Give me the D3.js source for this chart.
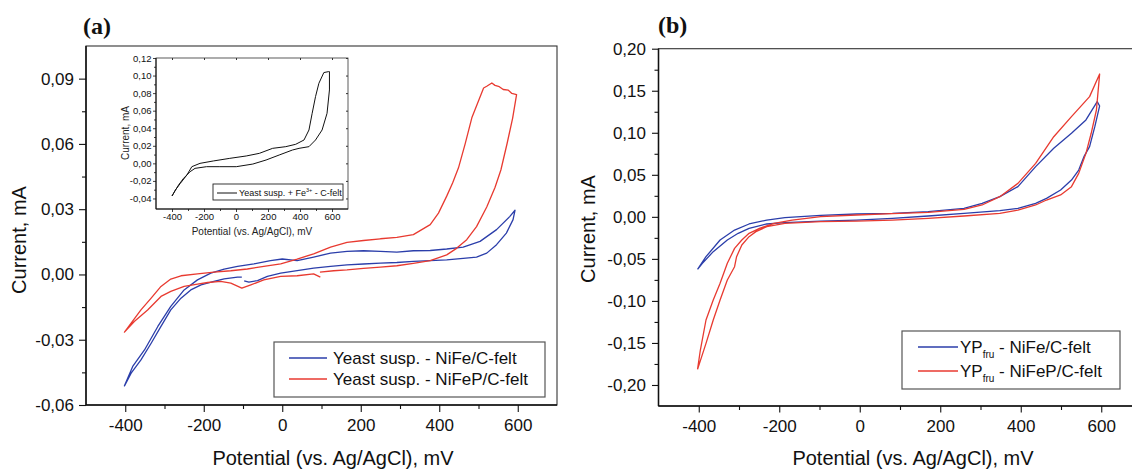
<!DOCTYPE html>
<html>
<head>
<meta charset="utf-8">
<script src="https://cdn.jsdelivr.net/npm/d3@7"></script>
<style>
  body { margin: 0; background: #fff; }
  svg { display: block; font-family: "Liberation Sans", Arial, sans-serif; }
</style>
</head>
<body>
<svg id="chart" width="1132" height="469"></svg>
<script>
// ---- data (potential mV, current mA) ----
const blueA = [[-103,-0.0012],[-114,-0.0012],[-148,-0.0020],[-174,-0.0032],[-207,-0.0048],[-233,-0.0071],[-258,-0.0109],[-284,-0.0163],[-309,-0.0239],[-334,-0.0316],[-360,-0.0393],[-385,-0.0454],[-402,-0.0512],
  [-381,-0.0423],[-351,-0.0347],[-317,-0.0239],[-284,-0.0147],[-250,-0.0071],[-216,-0.0025],[-182,0.0006],[-148,0.0025],[-114,0.0037],[-72,0.0049],[-30,0.0064],[0,0.0071],[38,0.0064],[80,0.0080],[123,0.0098],[165,0.0106],[207,0.0109],[250,0.0106],[292,0.0103],[334,0.0109],[377,0.0110],[419,0.0117],[461,0.0126],[504,0.0152],[546,0.0206],[580,0.0267],[593,0.0295],
  [588,0.0252],[571,0.0190],[546,0.0137],[521,0.0098],[495,0.0080],[461,0.0074],[419,0.0067],[377,0.0064],[334,0.0060],[292,0.0055],[250,0.0052],[207,0.0048],[165,0.0044],[123,0.0037],[80,0.0029],[38,0.0018],[-4,0.0006],[-38,-0.0009],[-63,-0.0028],[-85,-0.0035],[-97,-0.0029]];

const redA = [[96,0.0011],[131,0.0017],[165,0.0021],[207,0.0028],[250,0.0034],[292,0.0040],[334,0.0051],[377,0.0064],[419,0.0090],[444,0.0120],[470,0.0160],[495,0.0220],[521,0.0310],[542,0.0400],[557,0.0480],[573,0.0603],[587,0.0719],[597,0.0827],
  [585,0.0832],[576,0.0847],[563,0.0850],[553,0.0863],[542,0.0869],[534,0.0880],[521,0.0865],[513,0.0857],[483,0.0720],[466,0.0600],[449,0.0490],[434,0.0420],[419,0.0360],[398,0.0282],[377,0.0229],[334,0.0183],[292,0.0170],[250,0.0164],[207,0.0156],[165,0.0147],[123,0.0126],[80,0.0095],[38,0.0071],[-4,0.0049],[-47,0.0037],[-89,0.0025],[-131,0.0017],[-174,0.0011],[-216,0.0003],[-258,-0.0006],[-284,-0.0021],[-309,-0.0055],[-334,-0.0109],[-360,-0.0163],[-402,-0.0265],
  [-377,-0.0216],[-343,-0.0163],[-309,-0.0101],[-284,-0.0078],[-250,-0.0055],[-216,-0.0044],[-190,-0.0037],[-157,-0.0032],[-131,-0.0040],[-103,-0.0063],[-80,-0.0048],[-47,-0.0025],[-4,-0.0009],[38,-0.0006],[80,0.0003],[97,-0.0012]];

const insetA = [[-400,-0.0372],[-379,-0.0304],[-348,-0.0228],[-307,-0.0133],[-276,-0.0038],[-225,0.0000],[-142,0.0027],[-39,0.0057],[64,0.0084],[146,0.0114],[229,0.0171],[311,0.0190],[373,0.0217],[425,0.0266],[456,0.0380],[476,0.0570],[497,0.0760],[518,0.0912],[549,0.1034],[579,0.1045],
  [584,0.1045],[584,0.0836],[569,0.0570],[538,0.0380],[497,0.0266],[456,0.0190],[394,0.0171],[353,0.0152],[270,0.0095],[188,0.0038],[105,-0.0008],[2,-0.0038],[-101,-0.0038],[-184,-0.0038],[-256,-0.0057],[-287,-0.0095],[-328,-0.0171],[-359,-0.0247],[-384,-0.0323],[-400,-0.0372]];

const blueB = [[-403,-0.0624],[-382,-0.0474],[-347,-0.0275],[-311,-0.0157],[-275,-0.0085],[-231,-0.0038],[-186,-0.0010],[-97,0.0018],[-8,0.0034],[81,0.0042],[170,0.0061],[259,0.0101],[304,0.0161],[348,0.0240],[393,0.0359],[437,0.0597],[482,0.0815],[526,0.0994],[562,0.1153],[590,0.1371],[596,0.1319],
  [584,0.1073],[571,0.0835],[557,0.0716],[544,0.0557],[526,0.0438],[499,0.0319],[464,0.0220],[437,0.0161],[393,0.0101],[348,0.0073],[259,0.0042],[170,0.0010],[81,-0.0018],[-8,-0.0038],[-97,-0.0050],[-186,-0.0069],[-231,-0.0085],[-275,-0.0137],[-302,-0.0196],[-329,-0.0275],[-364,-0.0414],[-391,-0.0553],[-403,-0.0624]];

const redB = [[-403,-0.1814],[-396,-0.1584],[-382,-0.1227],[-364,-0.0989],[-347,-0.0791],[-329,-0.0553],[-311,-0.0375],[-293,-0.0275],[-275,-0.0196],[-249,-0.0137],[-213,-0.0077],[-168,-0.0038],[-97,0.0002],[-8,0.0022],[81,0.0038],[170,0.0054],[259,0.0089],[304,0.0141],[348,0.0240],[393,0.0398],[437,0.0636],[482,0.0953],[526,0.1192],[571,0.1430],[596,0.1699],
  [588,0.1271],[575,0.0994],[562,0.0755],[544,0.0517],[526,0.0359],[499,0.0260],[464,0.0200],[437,0.0141],[393,0.0081],[348,0.0042],[259,0.0010],[170,-0.0018],[81,-0.0038],[-8,-0.0050],[-97,-0.0057],[-186,-0.0077],[-231,-0.0117],[-258,-0.0176],[-275,-0.0236],[-293,-0.0335],[-306,-0.0474],[-311,-0.0593],[-329,-0.0751],[-347,-0.0989],[-364,-0.1227],[-382,-0.1505],[-403,-0.1814]];

const xTicks = [-400, -200, 0, 200, 400, 600];
const xMinor = [-300, -100, 100, 300, 500];
const yTicksA = [-0.06, -0.03, 0, 0.03, 0.06, 0.09];
const yMinorA = [-0.045, -0.015, 0.015, 0.045, 0.075];
const yTicksB = [-0.20, -0.15, -0.10, -0.05, 0, 0.05, 0.10, 0.15, 0.20];
const yMinorB = [-0.175, -0.125, -0.075, -0.025, 0.025, 0.075, 0.125, 0.175];
const yTicksIn = [-0.04, -0.02, 0, 0.02, 0.04, 0.06, 0.08, 0.10, 0.12];
const yMinorIn = [-0.03, -0.01, 0.01, 0.03, 0.05, 0.07, 0.09, 0.11];

const BLUE = '#2b3eaa', RED = '#e83a30';

const svg = d3.select('#chart');
const fmt = v => { const r = Math.round(v*1000)/1000; return (r < 0 ? '-' : '') + Math.abs(r).toFixed(2).replace('.', ','); };

// 画一个坐标框 + 刻度
const drawAxes = (g, x, y, o) => {
  const [x0, x1] = x.range(), [y1, y0] = y.range();
  g.append('rect').attr('x', x0).attr('y', y0).attr('width', x1 - x0).attr('height', y1 - y0)
    .attr('fill', o.fill || 'none').attr('stroke', '#333').attr('stroke-width', o.frame);

  const bx = g.append('g').attr('transform', `translate(0,${y1})`)
    .call(d3.axisBottom(x).tickValues(xTicks).tickSize(o.tick).tickPadding(o.padX).tickFormat(d => d));
  const bxm = g.append('g').attr('transform', `translate(0,${y1})`)
    .call(d3.axisBottom(x).tickValues(xMinor).tickSize(o.minor).tickFormat(''));
  const ly = g.append('g').attr('transform', `translate(${x0},0)`)
    .call(d3.axisLeft(y).tickValues(o.yTicks).tickSize(o.tick).tickPadding(o.padY).tickFormat(fmt));
  const lym = g.append('g').attr('transform', `translate(${x0},0)`)
    .call(d3.axisLeft(y).tickValues(o.yMinor).tickSize(o.minor).tickFormat(''));
  [bx, bxm, ly, lym].forEach(a => {
    a.select('.domain').remove();
    a.selectAll('line').attr('stroke', '#111').attr('stroke-width', o.frame);
    a.selectAll('text').attr('font-size', o.font).attr('fill', '#111').attr('font-family', '"Liberation Sans", Arial, sans-serif');
  });
  // 左轴和底轴稍粗
  g.append('line').attr('x1', x0).attr('x2', x0).attr('y1', y0).attr('y2', y1).attr('stroke', '#111').attr('stroke-width', o.axis);
  g.append('line').attr('x1', x0).attr('x2', x1).attr('y1', y1).attr('y2', y1).attr('stroke', '#111').attr('stroke-width', o.axis);

  if (o.inner) {
    g.append('g').attr('transform', `translate(0,${y0})`)
      .call(d3.axisBottom(x).tickValues(xTicks).tickSize(o.minor).tickFormat(''))
      .call(a => { a.select('.domain').remove(); a.selectAll('line').attr('stroke', '#333'); });
    g.append('g').attr('transform', `translate(${x1},0)`)
      .call(d3.axisLeft(y).tickValues(o.yTicks).tickSize(o.minor).tickFormat(''))
      .call(a => { a.select('.domain').remove(); a.selectAll('line').attr('stroke', '#333'); });
  }
};

const drawCurve = (g, x, y, data, color, w) => {
  const line = d3.line().x(d => x(d[0])).y(d => y(d[1]));
  g.append('path').datum(data).attr('d', line).attr('fill', 'none')
    .attr('stroke', color).attr('stroke-width', w).attr('stroke-linejoin', 'round');
};

// ---------- panel (a) ----------
const xa = d3.scaleLinear().domain([-500, 700]).range([86, 557]);
const ya = d3.scaleLinear().domain([-0.06, 0.105]).range([405, 46]);
const ga = svg.append('g');
drawAxes(ga, xa, ya, { tick: 7, minor: 4, padX: 7, padY: 5, font: 17, frame: 1.1, axis: 1.5, yTicks: yTicksA, yMinor: yMinorA });
drawCurve(ga, xa, ya, blueA, BLUE, 1.3);
drawCurve(ga, xa, ya, redA, RED, 1.3);

ga.append('text').attr('x', 83).attr('y', 34).text('(a)')
  .attr('font-family', '"Liberation Serif", "Times New Roman", serif').attr('font-weight', 'bold').attr('font-size', 24).attr('fill', '#111');
ga.append('text').attr('x', 333).attr('y', 465).attr('text-anchor', 'middle').attr('font-size', 20).attr('fill', '#111')
  .text('Potential (vs. Ag/AgCl), mV');
ga.append('text').attr('transform', 'translate(26,240) rotate(-90)').attr('text-anchor', 'middle').attr('font-size', 20).attr('fill', '#111')
  .text('Current, mA');

// legend a
const lga = ga.append('g');
lga.append('rect').attr('x', 274).attr('y', 342).attr('width', 271).attr('height', 55).attr('fill', '#fff').attr('stroke', '#555').attr('stroke-width', 1.2);
[['Yeast susp. - NiFe/C-felt', BLUE, 358], ['Yeast susp. - NiFeP/C-felt', RED, 379]].forEach(([t, c, ly]) => {
  lga.append('line').attr('x1', 289).attr('x2', 327).attr('y1', ly).attr('y2', ly).attr('stroke', c).attr('stroke-width', 1.3);
  lga.append('text').attr('x', 333).attr('y', ly + 6).attr('font-size', 17).attr('fill', '#111').text(t);
});

// inset
const xi = d3.scaleLinear().domain([-500, 700]).range([156, 348]);
const yi = d3.scaleLinear().domain([-0.052, 0.12]).range([209, 58]);
const gi = svg.append('g');
drawAxes(gi, xi, yi, { tick: 3, minor: 2, padX: 1.5, padY: 1.5, font: 9.5, frame: 0.8, axis: 1, yTicks: yTicksIn, yMinor: yMinorIn, fill: '#fff', inner: true });
drawCurve(gi, xi, yi, insetA, '#111', 1);
gi.append('text').attr('x', 252).attr('y', 235).attr('text-anchor', 'middle').attr('font-size', 10).attr('fill', '#222')
  .text('Potential (vs. Ag/AgCl), mV');
gi.append('text').attr('transform', 'translate(129,133) rotate(-90)').attr('text-anchor', 'middle').attr('font-size', 10).attr('fill', '#222')
  .text('Current, mA');
gi.append('rect').attr('x', 213).attr('y', 184).attr('width', 130).attr('height', 16).attr('fill', '#fff').attr('stroke', '#222').attr('stroke-width', 0.9);
gi.append('line').attr('x1', 217).attr('x2', 237).attr('y1', 193).attr('y2', 193).attr('stroke', '#111').attr('stroke-width', 1);
const it = gi.append('text').attr('x', 239).attr('y', 196).attr('font-size', 9).attr('fill', '#111');
it.append('tspan').text('Yeast susp. + Fe');
it.append('tspan').attr('font-size', 5.5).attr('dy', -4).text('3+');
it.append('tspan').attr('dy', 4).text(' - C-felt');

// ---------- panel (b) ----------
const xb = d3.scaleLinear().domain([-500, 700]).range([658.5, 1141.5]);
const yb = d3.scaleLinear().domain([-0.225, 0.20]).range([406, 48.7]);
const gb = svg.append('g');
drawAxes(gb, xb, yb, { tick: 6.5, minor: 4, padX: 7, padY: 6, font: 17, frame: 1.1, axis: 1.5, yTicks: yTicksB, yMinor: yMinorB });
drawCurve(gb, xb, yb, blueB, BLUE, 1.3);
drawCurve(gb, xb, yb, redB, RED, 1.3);

gb.append('text').attr('x', 658).attr('y', 33).text('(b)')
  .attr('font-family', '"Liberation Serif", "Times New Roman", serif').attr('font-weight', 'bold').attr('font-size', 24).attr('fill', '#111');
gb.append('text').attr('x', 913).attr('y', 465).attr('text-anchor', 'middle').attr('font-size', 20).attr('fill', '#111')
  .text('Potential (vs. Ag/AgCl), mV');
gb.append('text').attr('transform', 'translate(595,229) rotate(-90)').attr('text-anchor', 'middle').attr('font-size', 20).attr('fill', '#111')
  .text('Current, mA');

const lgb = gb.append('g');
lgb.append('rect').attr('x', 902).attr('y', 331).attr('width', 218).attr('height', 58).attr('fill', '#fff').attr('stroke', '#555').attr('stroke-width', 1.2);
[[' - NiFe/C-felt', BLUE, 347], [' - NiFeP/C-felt', RED, 371]].forEach(([t, c, ly]) => {
  lgb.append('line').attr('x1', 918).attr('x2', 958).attr('y1', ly).attr('y2', ly).attr('stroke', c).attr('stroke-width', 1.3);
  const tx = lgb.append('text').attr('x', 960).attr('y', ly + 6).attr('font-size', 17).attr('fill', '#111');
  tx.append('tspan').text('YP');
  tx.append('tspan').attr('font-size', 10).attr('dy', 5).text('fru');
  tx.append('tspan').attr('dy', -5).text(t);
});
</script>
</body>
</html>
